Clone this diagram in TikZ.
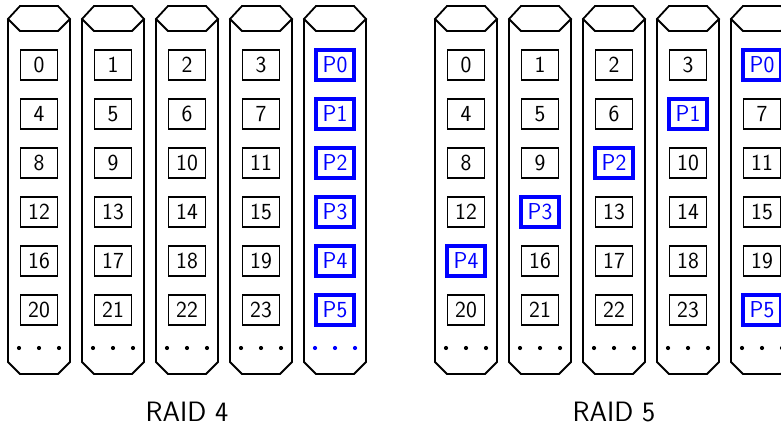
\documentclass[tikz,border=0pt]{standalone}
\usepackage{fontspec}
\begin{document}
\begin{tikzpicture}[x=1pt,y=-1pt,
  disk/.style={draw=black,line width=1.8pt,line join=miter},
  cell/.style={draw=black,line width=1.6pt,minimum width=37pt,minimum height=30pt,
    inner sep=1pt,font=\sffamily\fontsize{23}{27}\selectfont,text=black},
  pcell/.style={cell,draw=blue,line width=3.2pt,text=blue,minimum width=38pt,minimum height=30pt},
  dotmark/.style={circle,fill=#1,inner sep=0pt,minimum size=4.2pt},
  caption/.style={font=\sffamily\fontsize{28}{32}\selectfont}]
\clip (0,0) rectangle (781,427);
\fill[white] (0,0) rectangle (781,427);

% one disk outline: lid hexagon plus body, left edge at #1
\newcommand{\diskshape}[1]{%
  \draw[disk] (#1,19) -- (#1+12,6) -- (#1+50,6) -- (#1+62,19) -- (#1+50,31) -- (#1+12,31) -- cycle;
  \draw[disk] (#1,19) -- (#1,362) -- (#1+12,374) -- (#1+50,374) -- (#1+62,362) -- (#1+62,19);
}

% RAID 4 array
\foreach \d/\col in {0/{0/cell,4/cell,8/cell,12/cell,16/cell,20/cell},
                      1/{1/cell,5/cell,9/cell,13/cell,17/cell,21/cell},
                      2/{2/cell,6/cell,10/cell,14/cell,18/cell,22/cell},
                      3/{3/cell,7/cell,11/cell,15/cell,19/cell,23/cell},
                      4/{P0/pcell,P1/pcell,P2/pcell,P3/pcell,P4/pcell,P5/pcell}} {
  \pgfmathsetmacro{\lx}{8+74*\d}
  \diskshape{\lx}
  \foreach \lab/\sty [count=\r from 0] in \col {
    \node[\sty] (rfour-\d-\r) at (\lx+31,65+49*\r) {\lab};
  }
}
\foreach \d in {0,1,2,3} {
  \pgfmathsetmacro{\cx}{39+74*\d}
  \foreach \k in {-1,0,1} \node[dotmark=black] (rfour-dot-\d-\k) at (\cx+20*\k,348) {};
}
\foreach \k in {-1,0,1} \node[dotmark=blue] (rfour-dot-4-\k) at (335+20*\k,348) {};
\node[caption] (rfour-cap) at (187,412) {RAID 4};

% RAID 5 array with rotating parity
\foreach \d/\col in {0/{0/cell,4/cell,8/cell,12/cell,P4/pcell,20/cell},
                      1/{1/cell,5/cell,9/cell,P3/pcell,16/cell,21/cell},
                      2/{2/cell,6/cell,P2/pcell,13/cell,17/cell,22/cell},
                      3/{3/cell,P1/pcell,10/cell,14/cell,18/cell,23/cell},
                      4/{P0/pcell,7/cell,11/cell,15/cell,19/cell,P5/pcell}} {
  \pgfmathsetmacro{\lx}{435+74*\d}
  \diskshape{\lx}
  \foreach \lab/\sty [count=\r from 0] in \col {
    \node[\sty] (rfive-\d-\r) at (\lx+31,65+49*\r) {\lab};
  }
  \foreach \k in {-1,0,1} \node[dotmark=black] (rfive-dot-\d-\k) at (\lx+31+20*\k,348) {};
}
\node[caption] (rfive-cap) at (614,412) {RAID 5};
\end{tikzpicture}
\end{document}
